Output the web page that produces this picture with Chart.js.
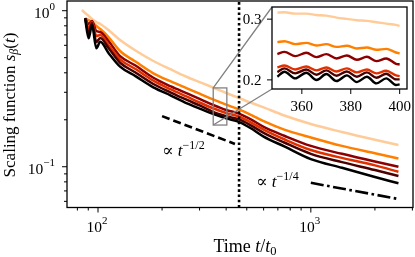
<!DOCTYPE html>
<html>
<head>
<meta charset="utf-8">
<script src="https://cdn.jsdelivr.net/npm/chart.js@4.4.1/dist/chart.umd.min.js"></script>
<style>
    html, body { margin: 0; padding: 0; background: #fff; }
    #wrap { position: relative; width: 415px; height: 257px; }
    #wrap canvas { position: absolute; left: 0; top: 0; }
</style>
</head>
<body>
<div id="wrap">
    <canvas id="mainChart" width="415" height="257"></canvas>
    <canvas id="insetChart" width="415" height="257"></canvas>
</div>
<script>
const times = [87, 90.4, 93.7, 98.2, 102.5, 112, 127, 150, 182, 220, 262, 300, 347, 400, 459, 520, 600, 750, 1000, 1400, 2000, 2580];
// the lightest curve starts a little earlier
const timesLight = [84, 87, 90.4, 93.7, 98.2, 102.5, 112, 127, 150, 182, 220, 262, 300, 347, 400, 459, 520, 600, 750, 1000, 1400, 2000, 2580];

// scaling function s_beta(t), top curve to bottom curve
const sPeach  = [1.01, 0.967, 0.925, 0.885, 0.846, 0.822, 0.752, 0.649, 0.556, 0.476, 0.420, 0.376, 0.349, 0.322, 0.297, 0.276, 0.258, 0.240, 0.213, 0.188, 0.167, 0.149, 0.138];
const sOrange = [0.894, 0.872, 0.846, 0.798, 0.763, 0.678, 0.552, 0.472, 0.397, 0.352, 0.318, 0.294, 0.270, 0.250, 0.233, 0.216, 0.196, 0.173, 0.154, 0.136, 0.122, 0.113];
const sMaroon = [0.894, 0.822, 0.859, 0.741, 0.730, 0.639, 0.512, 0.445, 0.372, 0.327, 0.295, 0.272, 0.249, 0.231, 0.219, 0.202, 0.180, 0.158, 0.136, 0.121, 0.108, 0.100];
const sRed    = [0.894, 0.775, 0.846, 0.688, 0.699, 0.603, 0.488, 0.423, 0.356, 0.313, 0.281, 0.258, 0.237, 0.221, 0.210, 0.193, 0.173, 0.150, 0.128, 0.114, 0.102, 0.0929];
const sDark   = [0.894, 0.720, 0.834, 0.630, 0.668, 0.577, 0.464, 0.402, 0.339, 0.299, 0.268, 0.247, 0.225, 0.211, 0.201, 0.185, 0.165, 0.143, 0.121, 0.107, 0.0953, 0.0872];
const sBlack  = [0.894, 0.665, 0.810, 0.574, 0.633, 0.536, 0.438, 0.381, 0.323, 0.286, 0.255, 0.236, 0.218, 0.204, 0.194, 0.177, 0.156, 0.135, 0.112, 0.0985, 0.0860, 0.0783];

// zoomed window 350..400
const insetTimes = [350, 352.9, 357.3, 361.8, 366, 370, 374.2, 378.4, 382.5, 386.6, 390.5, 394.5, 398.5, 400];
const iPeach  = [0.3108, 0.3113, 0.3091, 0.3091, 0.3069, 0.3058, 0.3026, 0.3004, 0.2982, 0.2971, 0.2949, 0.2927, 0.2905, 0.2889];
const iOrange = [0.2621, 0.2637, 0.2588, 0.2610, 0.2566, 0.2588, 0.2544, 0.2561, 0.2517, 0.2533, 0.2495, 0.2511, 0.2451, 0.2435];
const iMaroon = [0.2424, 0.2462, 0.2391, 0.2446, 0.2375, 0.2424, 0.2353, 0.2402, 0.2331, 0.2380, 0.2309, 0.2353, 0.2265, 0.2254];
const iRed    = [0.2205, 0.2238, 0.2172, 0.2221, 0.2156, 0.2205, 0.2139, 0.2189, 0.2123, 0.2172, 0.2107, 0.2150, 0.2074, 0.2063];
const iDark   = [0.2128, 0.2189, 0.2107, 0.2172, 0.2085, 0.2156, 0.2068, 0.2139, 0.2052, 0.2123, 0.2035, 0.2101, 0.2008, 0.2008];
const iBlack  = [0.2052, 0.2134, 0.2025, 0.2118, 0.1997, 0.2096, 0.1981, 0.2074, 0.1964, 0.2052, 0.1942, 0.2025, 0.1915, 0.1926];

// power-law guides
const halfT = [200, 440];
const halfV = [0.211, 0.140];
const quarterT = [1000, 2580];
const quarterV = [0.0789, 0.0621];
const markerTime = 460;

// axes
const xMin = 71.5, xMax = 3020, yMin = 0.0548, yMax = 1.154;
const insetXMin = 347.8, insetXMax = 403, insetYMin = 0.185, insetYMax = 0.320;
const xMajorTicks = [100, 1000];
const xMajorExps = ['2', '3'];
const yMajorTicks = [0.1, 1];
const yMajorExps = ['\u22121', '0'];
const insetXTicks = [360, 380, 400];
const insetYTicks = [0.2, 0.3];
const insetYTickLabels = ['0.2', '0.3'];

const palette = ['#ffcc99', '#ff8000', '#8c0000', '#e03000', '#4c0000', '#000000'];
const serif = '"Liberation Serif", "DejaVu Serif", serif';

function pts(xs, ys) {
    return ys.map((v, i) => ({ x: xs[i], y: v }));
}

function curve(data, color, width) {
    return {
        data,
        borderColor: color,
        borderWidth: width,
        pointRadius: 0,
        fill: false,
        cubicInterpolationMode: 'monotone'
    };
}

// draws a run of text pieces (roman / italic / raised / lowered)
function rich(ctx, parts, x, y, align) {
    let w = 0;
    parts.forEach(p => {
        ctx.font = `${p.it ? 'italic ' : ''}${p.size}px ${serif}`;
        p.w = ctx.measureText(p.t).width;
        w += p.w;
    });
    let cx = align === 'center' ? x - w / 2 : align === 'right' ? x - w : x;
    ctx.textAlign = 'left';
    ctx.textBaseline = 'alphabetic';
    parts.forEach(p => {
        ctx.font = `${p.it ? 'italic ' : ''}${p.size}px ${serif}`;
        ctx.fillText(p.t, cx, y + (p.dy || 0));
        cx += p.w;
    });
}

function logTicks(min, max) {
    const out = [];
    for (let e = Math.floor(Math.log10(min)); e <= Math.ceil(Math.log10(max)); e++) {
        for (let m = 1; m <= 9; m++) {
            const v = m * Math.pow(10, e);
            if (v >= min && v <= max) out.push({ v, major: m === 1 });
        }
    }
    return out;
}

// ---------- inset ----------
const insetDecor = {
    id: 'insetDecor',
    beforeDatasetsDraw(chart) {
        const { ctx, chartArea: a } = chart;
        ctx.save();
        ctx.fillStyle = '#fff';
        ctx.fillRect(a.left, a.top, a.right - a.left, a.bottom - a.top);
        ctx.restore();
    },
    afterDatasetsDraw(chart) {
        const { ctx, chartArea: a, scales: { x, y } } = chart;
        ctx.save();
        ctx.strokeStyle = '#000';
        ctx.lineWidth = 1.3;
        ctx.strokeRect(a.left, a.top, a.right - a.left, a.bottom - a.top);
        ctx.fillStyle = '#000';
        ctx.lineWidth = 1;
        insetXTicks.forEach(t => {
            const px = x.getPixelForValue(t);
            ctx.beginPath();
            ctx.moveTo(px, a.bottom);
            ctx.lineTo(px, a.bottom + 5);
            ctx.stroke();
            rich(ctx, [{ t: String(t), size: 15 }], px, a.bottom + 22, 'center');
        });
        insetYTicks.forEach((v, i) => {
            const py = y.getPixelForValue(v);
            ctx.beginPath();
            ctx.moveTo(a.left, py);
            ctx.lineTo(a.left - 5, py);
            ctx.stroke();
            rich(ctx, [{ t: insetYTickLabels[i], size: 15 }], a.left - 10.5, py + 5, 'right');
        });
        ctx.restore();
    }
};

const insetChart = new Chart(document.getElementById('insetChart'), {
    type: 'line',
    data: {
        datasets: [
            curve(pts(insetTimes, iBlack), palette[5], 2.4),
            curve(pts(insetTimes, iDark), palette[4], 2.4),
            curve(pts(insetTimes, iRed), palette[3], 2.4),
            curve(pts(insetTimes, iMaroon), palette[2], 2.4),
            curve(pts(insetTimes, iOrange), palette[1], 2.4),
            curve(pts(insetTimes, iPeach), palette[0], 2.4)
        ]
    },
    options: {
        responsive: false,
        animation: false,
        layout: { padding: { left: 272, top: 7, right: 8, bottom: 168 } },
        plugins: { legend: { display: false }, tooltip: { enabled: false } },
        scales: {
            x: { type: 'linear', min: insetXMin, max: insetXMax, display: false },
            y: { type: 'linear', min: insetYMin, max: insetYMax, display: false }
        }
    },
    plugins: [insetDecor]
});

// ---------- main ----------
const mainDecor = {
    id: 'mainDecor',
    afterDatasetsDraw(chart) {
        const { ctx, chartArea: a, scales: { x, y } } = chart;
        ctx.save();

        // zoom box and connectors to the inset
        const bx0 = x.getPixelForValue(insetXMin), bx1 = x.getPixelForValue(insetXMax);
        const by0 = y.getPixelForValue(insetYMax), by1 = y.getPixelForValue(insetYMin);
        const ia = insetChart.chartArea;
        ctx.strokeStyle = '#808080';
        ctx.lineWidth = 1.3;
        ctx.strokeRect(bx0, by0, bx1 - bx0, by1 - by0);
        ctx.beginPath();
        ctx.moveTo(bx0, by0); ctx.lineTo(ia.left, ia.top);
        ctx.moveTo(bx0, by1); ctx.lineTo(ia.left, ia.bottom);
        ctx.stroke();

        // frame
        ctx.strokeStyle = '#000';
        ctx.lineWidth = 1.3;
        ctx.strokeRect(a.left, a.top, a.right - a.left, a.bottom - a.top);

        // ticks
        ctx.lineWidth = 1;
        logTicks(xMin, xMax).forEach(tk => {
            const px = x.getPixelForValue(tk.v);
            ctx.beginPath();
            ctx.moveTo(px, a.bottom);
            ctx.lineTo(px, a.bottom + (tk.major ? 5 : 3));
            ctx.stroke();
        });
        logTicks(yMin, yMax).forEach(tk => {
            const py = y.getPixelForValue(tk.v);
            ctx.beginPath();
            ctx.moveTo(a.left, py);
            ctx.lineTo(a.left - (tk.major ? 5 : 3), py);
            ctx.stroke();
        });

        // tick labels
        ctx.fillStyle = '#000';
        xMajorTicks.forEach((v, i) => {
            const px = x.getPixelForValue(v);
            rich(ctx, [{ t: '10', size: 15.5 }, { t: xMajorExps[i], size: 11, dy: -8 }], px - 1, a.bottom + 24.5, 'center');
        });
        yMajorTicks.forEach((v, i) => {
            const py = y.getPixelForValue(v);
            rich(ctx, [{ t: '10', size: 15.5 }, { t: yMajorExps[i], size: 11, dy: -7.5 }], a.left - 12, py + 7, 'right');
        });

        // axis titles
        rich(ctx, [
            { t: 'Time ', size: 18 },
            { t: 't', size: 18, it: true },
            { t: '/', size: 18 },
            { t: 't', size: 18, it: true },
            { t: '0', size: 12.5, dy: 3 }
        ], 245, 252, 'center');

        ctx.save();
        ctx.translate(14.5, 105);
        ctx.rotate(-Math.PI / 2);
        rich(ctx, [
            { t: 'Scaling function ', size: 17 },
            { t: 's', size: 17, it: true },
            { t: '\u03b2', size: 12, it: true, dy: 3 },
            { t: '(', size: 17 },
            { t: 't', size: 17, it: true },
            { t: ')', size: 17 }
        ], 0, 0, 'center');
        ctx.restore();

        // power-law annotations
        const hx = x.getPixelForValue(200), hy = y.getPixelForValue(0.117);
        rich(ctx, [
            { t: '\u221d ', size: 17 },
            { t: 't', size: 17, it: true },
            { t: '\u22121/2', size: 12, dy: -7 }
        ], hx, hy, 'left');
        const qx = x.getPixelForValue(553), qy = y.getPixelForValue(0.0738);
        rich(ctx, [
            { t: '\u221d ', size: 17 },
            { t: 't', size: 17, it: true },
            { t: '\u22121/4', size: 12, dy: -7 }
        ], qx, qy, 'left');

        ctx.restore();
    }
};

new Chart(document.getElementById('mainChart'), {
    type: 'line',
    data: {
        datasets: [
            {
                data: [{ x: markerTime, y: yMin }, { x: markerTime, y: yMax }],
                borderColor: '#000', borderWidth: 2.6, borderDash: [2.6, 2.6],
                pointRadius: 0, fill: false
            },
            {
                data: pts(halfT, halfV),
                borderColor: '#000', borderWidth: 2.6, borderDash: [8, 4],
                pointRadius: 0, fill: false
            },
            {
                data: pts(quarterT, quarterV),
                borderColor: '#000', borderWidth: 2.6, borderDash: [13, 3.5, 2.6, 3.5],
                pointRadius: 0, fill: false
            },
            curve(pts(times, sBlack), palette[5], 2.5),
            curve(pts(times, sDark), palette[4], 2.5),
            curve(pts(times, sRed), palette[3], 2.5),
            curve(pts(times, sMaroon), palette[2], 2.5),
            curve(pts(times, sOrange), palette[1], 2.5),
            curve(pts(timesLight, sPeach), palette[0], 2.5)
        ]
    },
    options: {
        responsive: false,
        animation: false,
        layout: { padding: { left: 67, top: 1, right: 2, bottom: 49.5 } },
        plugins: { legend: { display: false }, tooltip: { enabled: false } },
        scales: {
            x: { type: 'logarithmic', min: xMin, max: xMax, display: false },
            y: { type: 'logarithmic', min: yMin, max: yMax, display: false }
        }
    },
    plugins: [mainDecor]
});
</script>
</body>
</html>
